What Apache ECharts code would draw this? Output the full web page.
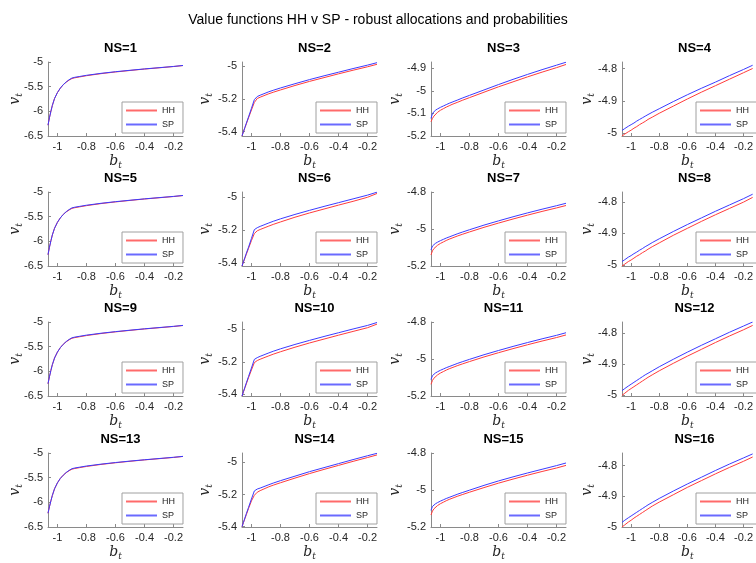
<!DOCTYPE html>
<html><head><meta charset="utf-8">
<script src="https://cdn.jsdelivr.net/npm/echarts@6/dist/echarts.min.js"></script>
<style>html,body{margin:0;padding:0;background:#fff}#c{width:756px;height:563px}</style>
</head><body><div id="c"></div>
<script>
const mainTitle = 'Value functions HH v SP - robust allocations and probabilities';
const seriesNames = ['HH', 'SP'];
const bGrid = [-1.065,-1.055,-1.045,-1.035,-1.02,-1.0,-0.98,-0.96,-0.94,-0.92,-0.90,-0.88,-0.85,-0.8,-0.7,-0.6,-0.5,-0.4,-0.3,-0.2,-0.135];
const xTicks = [-1,-0.8,-0.6,-0.4,-0.2];
const xLim = [-1.065,-0.135];

const hh1 = [-6.28,-6.13,-6.00,-5.88,-5.74,-5.62,-5.53,-5.46,-5.41,-5.368,-5.335,-5.32,-5.304,-5.278,-5.236,-5.202,-5.172,-5.143,-5.118,-5.092,-5.072];
const sp1 = [-6.28,-6.13,-6.00,-5.88,-5.74,-5.62,-5.53,-5.46,-5.405,-5.36,-5.325,-5.31,-5.295,-5.27,-5.23,-5.197,-5.168,-5.14,-5.115,-5.09,-5.07];
const hh2 = [-5.425,-5.40,-5.376,-5.352,-5.315,-5.268,-5.222,-5.198,-5.19,-5.183,-5.176,-5.169,-5.16,-5.146,-5.119,-5.094,-5.071,-5.048,-5.026,-5.005,-4.99];
const sp2 = [-5.425,-5.40,-5.374,-5.348,-5.31,-5.258,-5.205,-5.186,-5.178,-5.171,-5.164,-5.157,-5.148,-5.134,-5.108,-5.083,-5.06,-5.038,-5.016,-4.995,-4.98];
const hh3 = [-5.137,-5.122,-5.112,-5.104,-5.095,-5.086,-5.079,-5.072,-5.066,-5.060,-5.055,-5.05,-5.042,-5.03,-5.006,-4.982,-4.96,-4.938,-4.917,-4.897,-4.883];
const sp3 = [-5.122,-5.100,-5.092,-5.086,-5.080,-5.073,-5.067,-5.061,-5.055,-5.050,-5.045,-5.040,-5.032,-5.02,-4.996,-4.972,-4.949,-4.927,-4.906,-4.886,-4.873];
const hh4 = [-5.008,-5.005,-5.002,-4.999,-4.995,-4.99,-4.984,-4.979,-4.973,-4.968,-4.963,-4.957,-4.95,-4.938,-4.916,-4.894,-4.873,-4.853,-4.833,-4.813,-4.80];
const sp4 = [-4.991,-4.988,-4.985,-4.982,-4.978,-4.973,-4.968,-4.962,-4.957,-4.952,-4.947,-4.942,-4.935,-4.924,-4.902,-4.881,-4.861,-4.842,-4.822,-4.803,-4.79];
const hh5 = [-6.27,-6.12,-5.99,-5.87,-5.735,-5.615,-5.525,-5.455,-5.405,-5.365,-5.332,-5.318,-5.302,-5.277,-5.235,-5.201,-5.171,-5.142,-5.117,-5.092,-5.072];
const sp5 = [-6.27,-6.12,-5.99,-5.87,-5.735,-5.615,-5.525,-5.455,-5.40,-5.357,-5.322,-5.308,-5.293,-5.268,-5.229,-5.196,-5.167,-5.139,-5.114,-5.089,-5.07];
const hh6 = [-5.42,-5.396,-5.372,-5.348,-5.312,-5.265,-5.222,-5.205,-5.197,-5.19,-5.183,-5.176,-5.166,-5.151,-5.122,-5.096,-5.072,-5.048,-5.025,-5.0,-4.977];
const sp6 = [-5.42,-5.394,-5.368,-5.342,-5.305,-5.252,-5.198,-5.186,-5.178,-5.171,-5.164,-5.157,-5.147,-5.132,-5.105,-5.08,-5.056,-5.033,-5.01,-4.987,-4.969];
const hh7 = [-5.14,-5.118,-5.106,-5.097,-5.088,-5.078,-5.07,-5.062,-5.055,-5.049,-5.043,-5.037,-5.029,-5.016,-4.991,-4.968,-4.946,-4.925,-4.905,-4.886,-4.873];
const sp7 = [-5.113,-5.092,-5.084,-5.078,-5.071,-5.063,-5.056,-5.049,-5.043,-5.037,-5.031,-5.025,-5.017,-5.004,-4.979,-4.956,-4.934,-4.913,-4.893,-4.874,-4.861];
const hh8 = [-5.003,-5.0,-4.997,-4.994,-4.989,-4.984,-4.978,-4.972,-4.967,-4.961,-4.956,-4.95,-4.942,-4.93,-4.906,-4.884,-4.862,-4.841,-4.821,-4.801,-4.786];
const sp8 = [-4.989,-4.986,-4.983,-4.98,-4.975,-4.97,-4.964,-4.959,-4.953,-4.948,-4.942,-4.937,-4.929,-4.917,-4.894,-4.872,-4.851,-4.83,-4.81,-4.79,-4.776];
const hh9 = [-6.25,-6.11,-5.98,-5.865,-5.73,-5.61,-5.52,-5.452,-5.402,-5.362,-5.33,-5.316,-5.3,-5.275,-5.234,-5.2,-5.17,-5.141,-5.116,-5.091,-5.071];
const sp9 = [-6.25,-6.11,-5.98,-5.865,-5.73,-5.61,-5.52,-5.452,-5.397,-5.354,-5.32,-5.306,-5.291,-5.266,-5.228,-5.195,-5.166,-5.138,-5.113,-5.088,-5.069];
const hh10 = [-5.41,-5.385,-5.36,-5.335,-5.297,-5.25,-5.205,-5.192,-5.184,-5.177,-5.17,-5.163,-5.153,-5.138,-5.11,-5.084,-5.06,-5.036,-5.013,-4.99,-4.968];
const sp10 = [-5.41,-5.383,-5.356,-5.329,-5.29,-5.238,-5.185,-5.174,-5.166,-5.159,-5.152,-5.145,-5.135,-5.12,-5.093,-5.068,-5.044,-5.021,-4.998,-4.976,-4.958];
const hh11 = [-5.137,-5.116,-5.104,-5.095,-5.086,-5.076,-5.068,-5.06,-5.053,-5.047,-5.041,-5.035,-5.027,-5.014,-4.989,-4.966,-4.944,-4.923,-4.903,-4.884,-4.87];
const sp11 = [-5.111,-5.09,-5.082,-5.076,-5.069,-5.061,-5.054,-5.047,-5.041,-5.035,-5.029,-5.023,-5.015,-5.002,-4.977,-4.954,-4.932,-4.911,-4.891,-4.872,-4.858];
const hh12 = [-5.001,-4.998,-4.994,-4.991,-4.985,-4.979,-4.973,-4.967,-4.961,-4.955,-4.949,-4.943,-4.935,-4.922,-4.898,-4.875,-4.853,-4.831,-4.81,-4.79,-4.776];
const sp12 = [-4.986,-4.983,-4.979,-4.976,-4.971,-4.965,-4.959,-4.953,-4.947,-4.941,-4.935,-4.93,-4.922,-4.909,-4.885,-4.862,-4.84,-4.819,-4.798,-4.778,-4.765];
const hh13 = [-6.22,-6.09,-5.97,-5.86,-5.725,-5.605,-5.515,-5.45,-5.4,-5.36,-5.328,-5.314,-5.298,-5.273,-5.232,-5.198,-5.168,-5.14,-5.115,-5.09,-5.07];
const sp13 = [-6.22,-6.09,-5.97,-5.86,-5.725,-5.605,-5.515,-5.45,-5.395,-5.352,-5.318,-5.304,-5.289,-5.264,-5.226,-5.193,-5.164,-5.137,-5.112,-5.087,-5.068];
const hh14 = [-5.40,-5.375,-5.35,-5.325,-5.287,-5.24,-5.205,-5.186,-5.176,-5.168,-5.16,-5.152,-5.142,-5.127,-5.098,-5.07,-5.044,-5.019,-4.994,-4.97,-4.954];
const sp14 = [-5.40,-5.373,-5.346,-5.319,-5.28,-5.228,-5.178,-5.166,-5.16,-5.153,-5.146,-5.139,-5.129,-5.114,-5.086,-5.058,-5.033,-5.008,-4.983,-4.959,-4.944];
const hh15 = [-5.135,-5.114,-5.102,-5.093,-5.084,-5.074,-5.066,-5.058,-5.051,-5.045,-5.039,-5.033,-5.025,-5.012,-4.987,-4.963,-4.941,-4.92,-4.9,-4.881,-4.867];
const sp15 = [-5.11,-5.089,-5.081,-5.075,-5.068,-5.06,-5.053,-5.046,-5.04,-5.034,-5.028,-5.022,-5.014,-5.001,-4.975,-4.951,-4.929,-4.908,-4.888,-4.868,-4.854];
const hh16 = [-5.0,-4.997,-4.993,-4.99,-4.984,-4.978,-4.971,-4.965,-4.959,-4.953,-4.947,-4.941,-4.932,-4.919,-4.895,-4.871,-4.849,-4.827,-4.806,-4.786,-4.772];
const sp16 = [-4.985,-4.982,-4.978,-4.975,-4.97,-4.964,-4.958,-4.952,-4.946,-4.94,-4.934,-4.928,-4.92,-4.907,-4.883,-4.86,-4.838,-4.816,-4.795,-4.775,-4.762];

const yLim1 = [-6.5,-5], yTicks1 = [-6.5,-6,-5.5,-5];
const yLim2 = [-5.426,-4.976], yTicks2 = [-5.4,-5.2,-5];
const yLim3 = [-5.2,-4.872], yTicks3 = [-5.2,-5.1,-5,-4.9];
const yLim4 = [-5.008,-4.78], yTicks4 = [-5,-4.9,-4.8];
const yLim5 = [-6.5,-5], yTicks5 = [-6.5,-6,-5.5,-5];
const yLim6 = [-5.42,-4.968], yTicks6 = [-5.4,-5.2,-5];
const yLim7 = [-5.2,-4.8], yTicks7 = [-5.2,-5,-4.8];
const yLim8 = [-5.003,-4.769], yTicks8 = [-5,-4.9,-4.8];
const yLim9 = [-6.5,-5], yTicks9 = [-6.5,-6,-5.5,-5];
const yLim10 = [-5.41,-4.955], yTicks10 = [-5.4,-5.2,-5];
const yLim11 = [-5.2,-4.8], yTicks11 = [-5.2,-5,-4.8];
const yLim12 = [-5.003,-4.765], yTicks12 = [-5,-4.9,-4.8];
const yLim13 = [-6.5,-5], yTicks13 = [-6.5,-6,-5.5,-5];
const yLim14 = [-5.402,-4.942], yTicks14 = [-5.4,-5.2,-5];
const yLim15 = [-5.2,-4.8], yTicks15 = [-5.2,-5,-4.8];
const yLim16 = [-5.0,-4.759], yTicks16 = [-5,-4.9,-4.8];

const hhAll = [hh1,hh2,hh3,hh4,hh5,hh6,hh7,hh8,hh9,hh10,hh11,hh12,hh13,hh14,hh15,hh16];
const spAll = [sp1,sp2,sp3,sp4,sp5,sp6,sp7,sp8,sp9,sp10,sp11,sp12,sp13,sp14,sp15,sp16];
const yLims = [yLim1,yLim2,yLim3,yLim4,yLim5,yLim6,yLim7,yLim8,yLim9,yLim10,yLim11,yLim12,yLim13,yLim14,yLim15,yLim16];
const yTicksAll = [yTicks1,yTicks2,yTicks3,yTicks4,yTicks5,yTicks6,yTicks7,yTicks8,yTicks9,yTicks10,yTicks11,yTicks12,yTicks13,yTicks14,yTicks15,yTicks16];

const colLeft = [48, 242, 431, 622];
const rowTop = [62, 192, 322, 453];
const yNameGap = [24, 28, 27, 26];
const PW = 135, PH = 74;
const FONT = 'Liberation Sans, Arial, Helvetica, sans-serif';
const AX = '#8a8a8a', TXT = '#262626';
const RED = '#ff3b3b', BLUE = '#3b3bff';
const fmt = v => String(+(+v).toFixed(2));
const nameRich = {
  v: {fontFamily: 'DejaVu Serif', fontStyle: 'italic', fontSize: 14, color: TXT},
  s: {fontFamily: 'DejaVu Serif', fontStyle: 'italic', fontSize: 9, color: TXT, padding: [8, 0, 0, 0]}
};

const grid = [], xAxis = [], yAxis = [], series = [], title = [], legend = [];
title.push({text: mainTitle, left: 'center', top: 8,
  textStyle: {fontFamily: FONT, fontSize: 14, fontWeight: 'normal', color: '#000'}});
for (let k = 0; k < 16; k++) {
  const r = Math.floor(k / 4), c = k % 4;
  const L = colLeft[c], T = rowTop[r];
  const nHH = seriesNames[0] + '#' + k, nSP = seriesNames[1] + '#' + k;
  grid.push({left: L, top: T, width: PW, height: PH, containLabel: false});
  xAxis.push({type: 'value', gridIndex: k, min: xLim[0], max: xLim[1],
    name: '{v|b}{s|t}', nameLocation: 'middle', nameGap: 17, nameMoveOverlap: false,
    nameTextStyle: {rich: nameRich},
    splitLine: {show: false},
    axisLine: {show: true, onZero: false, lineStyle: {color: AX, width: 1}},
    axisTick: {show: true, inside: true, length: 3, customValues: xTicks, lineStyle: {color: AX}},
    axisLabel: {customValues: xTicks, formatter: fmt, fontFamily: FONT, fontSize: 11, color: TXT, margin: 5}
  });
  yAxis.push({type: 'value', gridIndex: k, min: yLims[k][0], max: yLims[k][1],
    name: '{v|v}{s|t}', nameLocation: 'middle', nameGap: yNameGap[c], nameRotate: 90, nameMoveOverlap: false,
    nameTextStyle: {rich: nameRich},
    splitLine: {show: false},
    axisLine: {show: true, onZero: false, lineStyle: {color: AX, width: 1}},
    axisTick: {show: true, inside: true, length: 3, customValues: yTicksAll[k], lineStyle: {color: AX}},
    axisLabel: {customValues: yTicksAll[k], formatter: fmt, fontFamily: FONT, fontSize: 11, color: TXT, margin: 5}
  });
  series.push({name: nHH, type: 'line', xAxisIndex: k, yAxisIndex: k,
    data: bGrid.map((b, i) => [b, hhAll[k][i]]), showSymbol: false, symbol: 'none',
    color: RED, lineStyle: {color: RED, width: 1}, itemStyle: {color: RED}, animation: false, silent: true});
  series.push({name: nSP, type: 'line', xAxisIndex: k, yAxisIndex: k,
    data: bGrid.map((b, i) => [b, spAll[k][i]]), showSymbol: false, symbol: 'none',
    color: BLUE, lineStyle: {color: BLUE, width: 1}, itemStyle: {color: BLUE}, animation: false, silent: true});
  title.push({text: 'NS=' + (k + 1), left: L + PW / 2, top: T - 25, textAlign: 'center',
    textStyle: {fontFamily: FONT, fontSize: 13, fontWeight: 'bold', color: '#000'}});
  legend.push({data: [
      {name: nHH, itemStyle: {color: '#ff6a6a', borderWidth: 0}},
      {name: nSP, itemStyle: {color: '#6a6aff', borderWidth: 0}}],
    formatter: n => n.split('#')[0], icon: 'rect',
    orient: 'vertical', left: L + PW - 61, top: T + PH - 34,
    itemWidth: 31, itemHeight: 2, itemGap: 5,
    padding: [4, 8, 4, 4], borderColor: '#a0a0a0', borderWidth: 1, backgroundColor: '#fff',
    textStyle: {fontFamily: FONT, fontSize: 9, color: TXT}, selectedMode: false});
}
const chart = echarts.init(document.getElementById('c'), null, {renderer: 'canvas'});
chart.setOption({animation: false, backgroundColor: '#fff', title, grid, xAxis, yAxis, series, legend});
</script></body></html>
